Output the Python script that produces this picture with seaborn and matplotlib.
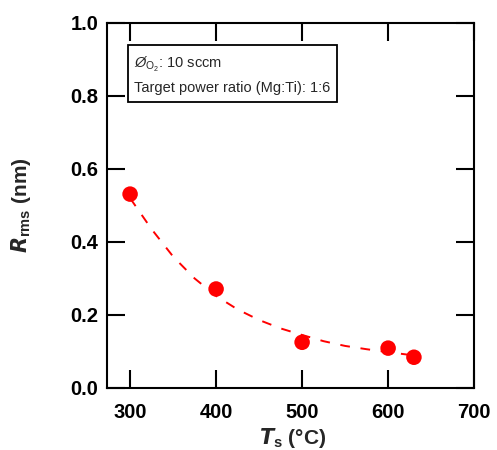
import matplotlib
matplotlib.use("Agg")
import matplotlib.pyplot as plt
import seaborn as sns
import pandas as pd

# data
ts = [300, 400, 500, 600, 630]
rrms = [0.531, 0.271, 0.125, 0.109, 0.084]
fit_x = [300, 325, 350, 375, 400, 425, 450, 475, 500, 525, 550, 575, 600, 630]
fit_y = [0.52, 0.435, 0.36, 0.30, 0.252, 0.215, 0.186, 0.163, 0.145, 0.128, 0.115, 0.106, 0.098, 0.089]
xticks = [300, 400, 500, 600, 700]
yticks = [0.0, 0.2, 0.4, 0.6, 0.8, 1.0]

sns.set_style("ticks")
plt.rcParams['font.family'] = ['Liberation Sans', 'DejaVu Sans']
plt.rcParams['mathtext.fontset'] = 'custom'
plt.rcParams['mathtext.rm'] = 'Liberation Sans'
plt.rcParams['mathtext.it'] = 'Liberation Sans:italic'
plt.rcParams['mathtext.bf'] = 'Liberation Sans:bold'

fig = plt.figure(figsize=(4.97, 4.5), dpi=100)
ax = fig.add_axes([0.215, 0.138, 0.739, 0.811])

pts = pd.DataFrame({"Ts": ts, "R": rrms})
fit = pd.DataFrame({"x": fit_x, "y": fit_y})

sns.lineplot(data=fit, x="x", y="y", ax=ax, color="#ff0000", lw=1.4,
             dashes=False, estimator=None, sort=True)
ax.lines[-1].set_dashes([5, 5.5])
sns.scatterplot(data=pts, x="Ts", y="R", ax=ax, color="#ff0000", s=125,
                edgecolor="none", zorder=3)

ax.set_xlim(273, 700)
ax.set_ylim(0, 1.0)
ax.set_xticks(xticks)
ax.set_yticks(yticks)
ax.set_xticklabels([str(v) for v in xticks])
ax.set_yticklabels([f"{v:.1f}" for v in yticks])
ax.tick_params(direction="in", length=13, width=1.5, top=True, right=True,
               labelsize=14.5, colors="black")
ax.tick_params(axis="x", pad=11)
ax.tick_params(axis="y", pad=6)
for lab in ax.get_xticklabels() + ax.get_yticklabels():
    lab.set_fontweight("bold")
for sp in ax.spines.values():
    sp.set_visible(True)
    sp.set_linewidth(1.5)
    sp.set_color("black")

ax.set_xlabel(r"$\mathbfit{T}_\mathbf{s}$ (°C)", fontsize=15, fontweight="bold")
ax.set_ylabel(r"$\mathbfit{R}_\mathbf{rms}$ (nm)", fontsize=15, fontweight="bold")
ax.xaxis.set_label_coords(0.507, -0.105)
ax.yaxis.set_label_coords(-0.2, 0.5)

ax.text(0.075, 0.912, "$\\mathit{Ø}_{\\mathrm{O_2}}$: 10 sccm\nTarget power ratio (Mg:Ti): 1:6",
        transform=ax.transAxes, fontsize=10.5, va="top", ha="left", linespacing=1.65,
        bbox=dict(boxstyle="square,pad=0.45", fc="white", ec="black", lw=1.3))

fig.savefig("out.png", dpi=100)
